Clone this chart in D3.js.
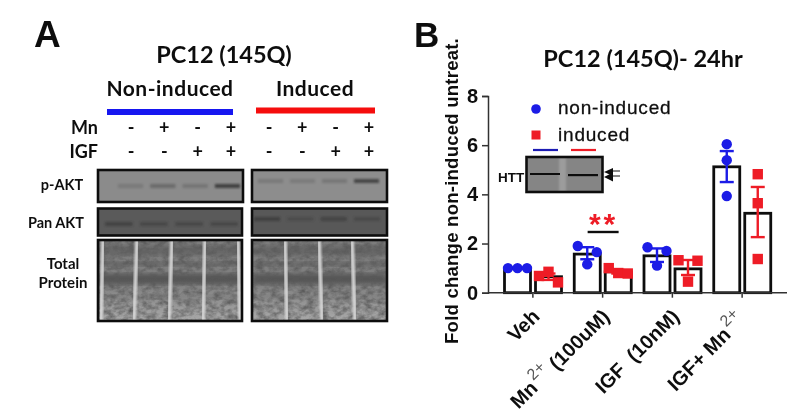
<!DOCTYPE html>
<html>
<head>
<meta charset="utf-8">
<script src="https://cdn.jsdelivr.net/npm/d3@7"></script>
<style>
html, body { margin: 0; padding: 0; background: #fff; }
svg { display: block; }
.cal { font-family: Lato, "Open Sans", sans-serif; font-weight: 700; fill: #111; }
.ari { font-family: "Liberation Sans", Arial, sans-serif; fill: #111; }
</style>
</head>
<body>
<div id="fig"></div>
<script>
// panel B values
var categories = ["Veh", "Mn2+ (100uM)", "IGF  (10nM)", "IGF+ Mn2+"];
var groups = ["non-induced", "induced"];
var nonInducedMean = [1.0, 1.57, 1.5, 5.12];
var inducedMean = [0.65, 0.85, 0.97, 3.23];
var nonInducedHi = [1.0, 1.85, 1.8, 5.76];
var nonInducedLo = [1.0, 1.36, 1.25, 4.5];
var inducedHi = [0.78, 0.92, 1.33, 4.3];
var inducedLo = [0.52, 0.78, 0.72, 2.26];
var nonInducedPts = [[1, 1, 1], [1.9, 1.15, 1.65], [1.85, 1.1, 1.7], [6.04, 5.39, 3.93]];
var inducedPts = [[0.68, 0.85, 0.42], [1.0, 0.8, 0.78], [1.32, 0.45, 1.3], [4.82, 3.64, 1.37]];
var yTicks = [0, 2, 4, 6, 8];

// panel A labels and blot band strengths
var mnRow = ["-", "+", "-", "+"];
var igfRow = ["-", "-", "+", "+"];
var lanes = [0, 1, 2, 3];
var pAktLeft = [0.16, 0.3, 0.2, 0.7];
var pAktRight = [0.18, 0.16, 0.2, 0.65];
var panAktLeft = [0.4, 0.3, 0.3, 0.3];
var panAktRight = [0.45, 0.2, 0.35, 0.25];
var blue = "#1a1ae6", red = "#ee1c25";

var svg = d3.select("#fig").append("svg").attr("width", 800).attr("height", 415);
var defs = svg.append("defs");
defs.append("filter").attr("id", "page").attr("filterUnits", "userSpaceOnUse")
    .attr("x", 0).attr("y", 0).attr("width", 800).attr("height", 415)
    .append("feGaussianBlur").attr("stdDeviation", 0.45);
defs.append("filter").attr("id", "soft").attr("x", "-20%").attr("y", "-50%").attr("width", "140%").attr("height", "200%")
    .append("feGaussianBlur").attr("stdDeviation", 1.1);
defs.append("filter").attr("id", "soft2").attr("x", "-20%").attr("y", "-20%").attr("width", "140%").attr("height", "140%")
    .append("feGaussianBlur").attr("stdDeviation", 2.6);
var grain = defs.append("filter").attr("id", "grain").attr("x", 0).attr("y", 0).attr("width", "100%").attr("height", "100%");
grain.append("feTurbulence").attr("type", "fractalNoise").attr("baseFrequency", "0.14 0.2").attr("numOctaves", 3).attr("seed", 4);
grain.append("feColorMatrix").attr("type", "matrix")
    .attr("values", "0 0 0 0 0.1  0 0 0 0 0.1  0 0 0 0 0.1  1.7 0 0 0 -0.55");
var fade = defs.append("linearGradient").attr("id", "fade").attr("x1", 0).attr("x2", 0).attr("y1", 0).attr("y2", 1);
fade.append("stop").attr("offset", "0%").attr("stop-color", "#7b7b7b");
fade.append("stop").attr("offset", "55%").attr("stop-color", "#808080");
fade.append("stop").attr("offset", "100%").attr("stop-color", "#a9a9a9");

var root = svg.append("g").attr("filter", "url(#page)");
root.append("rect").attr("width", 800).attr("height", 415).attr("fill", "#fff");

// ---------- panel A ----------
var a = root.append("g");
a.append("text").attr("class", "ari").attr("x", 34).attr("y", 47).attr("font-size", 37).attr("font-weight", 700).text("A");
a.append("text").attr("class", "cal").attr("x", 224).attr("y", 63).attr("text-anchor", "middle").attr("font-size", 23.5).text("PC12 (145Q)");
a.append("text").attr("class", "cal").attr("x", 170).attr("y", 96).attr("text-anchor", "middle").attr("font-size", 21).attr("letter-spacing", 0.5).text("Non-induced");
a.append("text").attr("class", "cal").attr("x", 315).attr("y", 96).attr("text-anchor", "middle").attr("font-size", 21).attr("letter-spacing", 0.5).text("Induced");
a.append("rect").attr("x", 107).attr("y", 109).attr("width", 126).attr("height", 6).attr("fill", "#1212f0");
a.append("rect").attr("x", 256).attr("y", 107.5).attr("width", 119).attr("height", 6).attr("fill", "#f50a0a");
a.append("text").attr("class", "cal").attr("x", 98).attr("y", 134).attr("text-anchor", "end").attr("font-size", 18).text("Mn");
a.append("text").attr("class", "cal").attr("x", 98).attr("y", 158).attr("text-anchor", "end").attr("font-size", 18).text("IGF");

var xLeft = d3.scalePoint().domain(lanes).range([131, 231]);
var xRight = d3.scalePoint().domain(lanes).range([269, 369]);
[xLeft, xRight].forEach(function(sc) {
    [[mnRow, 134], [igfRow, 158]].forEach(function(row) {
        a.selectAll(null).data(row[0]).enter().append("text").attr("class", "cal")
            .attr("x", function(d, i) { return sc(i); }).attr("y", row[1])
            .attr("text-anchor", "middle").attr("font-size", 18).text(function(d) { return d; });
    });
});

a.append("text").attr("class", "cal").attr("x", 62).attr("y", 190).attr("text-anchor", "middle").attr("font-size", 14.5).text("p-AKT");
a.append("text").attr("class", "cal").attr("x", 56).attr("y", 228).attr("text-anchor", "middle").attr("font-size", 14.5).text("Pan AKT");
a.append("text").attr("class", "cal").attr("x", 63).attr("y", 269).attr("text-anchor", "middle").attr("font-size", 15).text("Total");
a.append("text").attr("class", "cal").attr("x", 63).attr("y", 288).attr("text-anchor", "middle").attr("font-size", 15).text("Protein");

var clipCount = 0;
function blot(x, y, w, h, fill) {
    var id = "clip" + (clipCount++);
    defs.append("clipPath").attr("id", id).append("rect").attr("x", x).attr("y", y).attr("width", w).attr("height", h);
    var g = root.append("g");
    var inner = g.append("g").attr("clip-path", "url(#" + id + ")");
    inner.append("rect").attr("x", x).attr("y", y).attr("width", w).attr("height", h).attr("fill", fill);
    g.append("rect").attr("x", x).attr("y", y).attr("width", w).attr("height", h)
        .attr("fill", "none").attr("stroke", "#111").attr("stroke-width", 2.6);
    return inner;
}
function bands(inner, x0, x1, y, strengths) {
    var sc = d3.scaleBand().domain(lanes).range([x0, x1]).paddingInner(0.22);
    inner.selectAll(null).data(strengths).enter().append("rect")
        .attr("x", function(d, i) { return sc(i); }).attr("y", y - 2)
        .attr("width", sc.bandwidth()).attr("height", 4)
        .attr("fill", "#222").attr("opacity", function(d) { return d; })
        .attr("filter", "url(#soft)");
}
bands(blot(98, 170, 145, 32, "#8b8b8b"), 118, 240, 186, pAktLeft);
bands(blot(252, 170, 135, 32, "#8d8d8d"), 258, 379, 181, pAktRight);
bands(blot(98, 208.5, 144, 27, "#5a5a5a"), 105, 238, 224, panAktLeft);
bands(blot(252, 208.5, 135, 27, "#585858"), 254, 380, 219, panAktRight);

function totalBlot(x, w, cuts) {
    var t = blot(x, 240, w, 81, "url(#fade)");
    // darker smears across the lanes, blurred
    [[246, 9, 0.25], [262, 4, 0.3], [274, 10, 0.45], [295, 4, 0.15]].forEach(function(s) {
        t.append("rect").attr("x", x).attr("y", s[0]).attr("width", w).attr("height", s[1])
            .attr("fill", "#222").attr("opacity", s[2]).attr("filter", "url(#soft2)");
    });
    t.append("rect").attr("x", x).attr("y", 240).attr("width", w).attr("height", 81).attr("filter", "url(#grain)");
    t.selectAll(null).data(cuts).enter().append("line")
        .attr("x1", function(d) { return d[0]; }).attr("x2", function(d) { return d[1]; })
        .attr("y1", 240).attr("y2", 321)
        .attr("stroke", "#d8d8d8").attr("stroke-width", 3.6).attr("filter", "url(#soft)");
}
totalBlot(98, 144, [[103, 101], [137, 134], [172, 169], [205, 203], [238, 240]]);
totalBlot(252, 135, [[285, 287], [319, 322], [352, 355]]);

// ---------- panel B ----------
root.append("text").attr("class", "ari").attr("x", 414).attr("y", 47).attr("font-size", 35).attr("font-weight", 700).text("B");
root.append("text").attr("class", "cal").attr("x", 643).attr("y", 67).attr("text-anchor", "middle").attr("font-size", 23.5).text("PC12 (145Q)- 24hr");

var y = d3.scaleLinear().domain([0, 8]).range([292.7, 96]);
var x0 = d3.scaleBand().domain(categories).range([498, 777]);
var x1 = d3.scaleBand().domain(groups).range([6.5, 63.5]).paddingInner(5 / 31);

var rows = categories.map(function(c, i) {
    return [
        { cat: c, grp: groups[0], mean: nonInducedMean[i], hi: nonInducedHi[i], lo: nonInducedLo[i], pts: nonInducedPts[i], col: blue },
        { cat: c, grp: groups[1], mean: inducedMean[i], hi: inducedHi[i], lo: inducedLo[i], pts: inducedPts[i], col: red }
    ];
});
rows = d3.merge(rows);
function cx(d) { return x0(d.cat) + x1(d.grp) + x1.bandwidth() / 2; }

root.append("g").selectAll("rect").data(rows).enter().append("rect")
    .attr("x", function(d) { return x0(d.cat) + x1(d.grp); })
    .attr("y", function(d) { return y(d.mean); })
    .attr("width", x1.bandwidth())
    .attr("height", function(d) { return y(0) - y(d.mean); })
    .attr("fill", "#fff").attr("stroke", "#111").attr("stroke-width", 2.8);

// axes
var yAxis = root.append("g").attr("transform", "translate(488,0)")
    .call(d3.axisLeft(y).tickValues(yTicks).tickSize(6).tickPadding(4));
yAxis.selectAll("text").attr("class", "ari").attr("font-size", 20).attr("font-weight", 700);
yAxis.selectAll("line").attr("stroke", "#333").attr("stroke-width", 1.5);
yAxis.select(".domain").attr("stroke", "#333").attr("stroke-width", 1.5);

var xAxis = root.append("g").attr("transform", "translate(0,292.7)")
    .call(d3.axisBottom(x0).tickSize(5).tickSizeOuter(0));
xAxis.select(".domain").attr("d", "M488,0H787").attr("stroke", "#333").attr("stroke-width", 1.5);
xAxis.selectAll("line").attr("stroke", "#333").attr("stroke-width", 1.5);
xAxis.selectAll("text").each(function(d) {
    var t = d3.select(this).text("")
        .attr("class", "ari").attr("font-size", 20).attr("font-weight", 700)
        .attr("text-anchor", "end").attr("y", 0).attr("dy", 0)
        .style("white-space", "pre")
        .attr("transform", "translate(8,25) rotate(-45)");
    var parts = d.split("2+");
    t.append("tspan").text(parts[0]);
    if (parts.length > 1) {
        t.append("tspan").attr("dy", -10).attr("dx", 2).attr("font-size", 16).attr("font-weight", 400).attr("fill", "#555").text("2+");
        t.append("tspan").attr("dy", 10).text(parts[1] || " ");
    }
});

root.append("text").attr("class", "ari").attr("transform", "translate(458,191) rotate(-90)")
    .attr("text-anchor", "middle").attr("font-size", 18.6).attr("font-weight", 700).attr("letter-spacing", 0.2)
    .text("Fold change non-induced untreat.");

// error bars and points, side by side when the three points sit close together
var marks = root.append("g").selectAll("g").data(rows).enter().append("g");
marks.append("line").attr("x1", cx).attr("x2", cx)
    .attr("y1", function(d) { return y(d.hi); }).attr("y2", function(d) { return y(d.lo); })
    .attr("stroke", function(d) { return d.col; }).attr("stroke-width", 2.4);
["hi", "lo"].forEach(function(k) {
    marks.append("line")
        .attr("x1", function(d) { return cx(d) - 7; }).attr("x2", function(d) { return cx(d) + 7; })
        .attr("y1", function(d) { return y(d[k]); }).attr("y2", function(d) { return y(d[k]); })
        .attr("stroke", function(d) { return d.col; }).attr("stroke-width", 2.4);
});
function ptX(d, i) {
    var spread = y(d3.min(d.pts)) - y(d3.max(d.pts));
    return cx(d) + (spread > 30 ? 0 : (i - 1) * 9.5);
}
marks.each(function(d) {
    var g = d3.select(this);
    d.pts.forEach(function(v, i) {
        if (d.grp === groups[0]) {
            g.append("circle").attr("cx", ptX(d, i)).attr("cy", y(v)).attr("r", 5.2).attr("fill", d.col);
        } else {
            g.append("rect").attr("x", ptX(d, i) - 5.2).attr("y", y(v) - 5.2).attr("width", 10.4).attr("height", 10.4).attr("fill", d.col);
        }
    });
});

// significance
var sigX = x0(categories[1]) + x0.bandwidth() / 2;
root.append("line").attr("x1", sigX - 15).attr("x2", sigX + 16).attr("y1", 232).attr("y2", 232)
    .attr("stroke", "#111").attr("stroke-width", 2.4);
root.append("text").attr("class", "ari").attr("x", sigX + 1).attr("y", 234).attr("text-anchor", "middle")
    .attr("font-size", 30).attr("font-weight", 700).style("fill", red).attr("letter-spacing", 3).text("**");

// legend
root.append("circle").attr("cx", 536).attr("cy", 109).attr("r", 4.8).attr("fill", blue);
root.append("rect").attr("x", 531.5).attr("y", 130.5).attr("width", 9).attr("height", 9).attr("fill", red);
root.append("text").attr("class", "ari").attr("x", 558).attr("y", 114).attr("font-size", 19).attr("letter-spacing", 0.8)
    .attr("stroke", "#111").attr("stroke-width", 0.3).text(groups[0]);
root.append("text").attr("class", "ari").attr("x", 558).attr("y", 141).attr("font-size", 19).attr("letter-spacing", 0.8)
    .attr("stroke", "#111").attr("stroke-width", 0.3).text(groups[1]);

// HTT inset blot
root.append("line").attr("x1", 533).attr("x2", 558).attr("y1", 150).attr("y2", 150).attr("stroke", "#1a1ab4").attr("stroke-width", 2.2);
root.append("line").attr("x1", 571).attr("x2", 596).attr("y1", 150).attr("y2", 150).attr("stroke", red).attr("stroke-width", 2.2);
var inset = blot(526.5, 157, 76, 35, "#858585");
inset.append("rect").attr("x", 559).attr("y", 157).attr("width", 7).attr("height", 35).attr("fill", "#9c9c9c").attr("filter", "url(#soft)");
inset.append("rect").attr("x", 530).attr("y", 173).attr("width", 30).attr("height", 2).attr("fill", "#111");
inset.append("rect").attr("x", 568).attr("y", 174).attr("width", 30).attr("height", 2.2).attr("fill", "#111");
root.append("text").attr("class", "ari").attr("x", 498).attr("y", 182).attr("font-size", 13.5).attr("font-weight", 700).text("HTT");
root.append("path").attr("d", d3.line()([[604, 172], [613, 168], [613, 176]]) + "Z").attr("fill", "#111");
root.append("path").attr("d", d3.line()([[604, 177], [613, 172.5], [613, 181.5]]) + "Z").attr("fill", "#111");
root.append("line").attr("x1", 612).attr("x2", 620).attr("y1", 171).attr("y2", 171).attr("stroke", "#111");
root.append("line").attr("x1", 612).attr("x2", 620).attr("y1", 176).attr("y2", 176).attr("stroke", "#111");
</script>
</body>
</html>
